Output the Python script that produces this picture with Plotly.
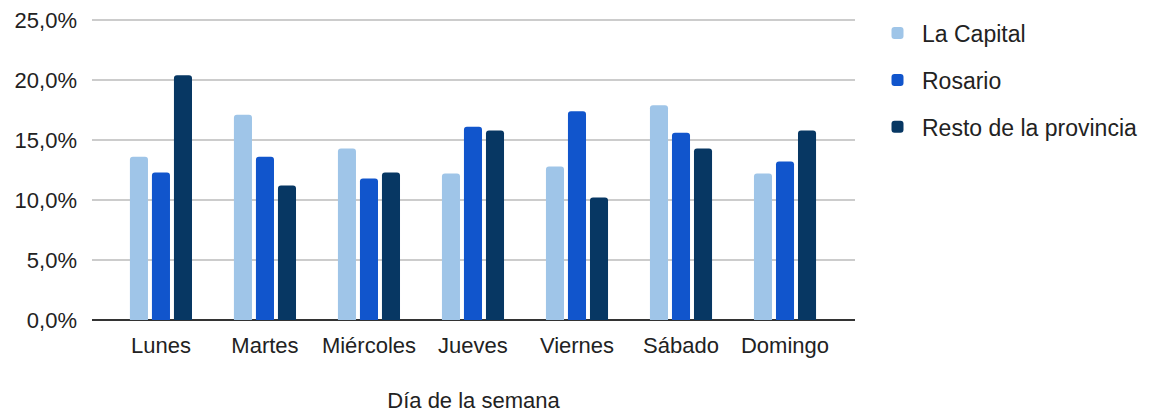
import plotly.graph_objects as go

dias = ["Lunes", "Martes", "Miércoles", "Jueves", "Viernes", "Sábado", "Domingo"]
la_capital = [13.6, 17.1, 14.3, 12.2, 12.8, 17.9, 12.2]
rosario = [12.3, 13.6, 11.8, 16.1, 17.4, 15.6, 13.2]
resto = [20.4, 11.2, 12.3, 15.8, 10.2, 14.3, 15.8]
y_ticks = [0, 5, 10, 15, 20, 25]
y_labels = [f"{v:.1f}%".replace(".", ",") for v in y_ticks]

series = [
    ("La Capital", la_capital, "#9fc5e8"),
    ("Rosario", rosario, "#1155cc"),
    ("Resto de la provincia", resto, "#073763"),
]

fig = go.Figure()
for name, vals, color in series:
    fig.add_trace(go.Bar(x=dias, y=vals, name=name, marker_color=color,
                         marker_line_width=0, legendgroup=name))

font = "Liberation Sans, Arial, sans-serif"
txt = "#222222"
fig.update_layout(
    width=1141, height=406,
    margin=dict(l=84, r=294, t=9, b=94, autoexpand=False),
    paper_bgcolor="white", plot_bgcolor="white",
    barmode="group", bargap=0.365, bargroupgap=0.18,
    barcornerradius=3,
    font=dict(family=font, size=22, color=txt),
    showlegend=True,
    legend=dict(x=1.0236, xref="paper", y=1.018, xanchor="left", yanchor="top",
                font=dict(size=23, color=txt), tracegroupgap=14,
                itemwidth=39, bgcolor="rgba(0,0,0,0)"),
    xaxis=dict(range=[-0.663, 6.673], showgrid=False, ticks="",
               tickfont=dict(size=22, color=txt), ticklabelstandoff=10,
               title=dict(text="Día de la semana", font=dict(size=22, color=txt), standoff=35),
               showline=False),
    yaxis=dict(range=[0, 25.25], tickvals=y_ticks, ticktext=y_labels,
               showgrid=True, gridcolor="#cccccc", gridwidth=1.5,
               zeroline=True, zerolinecolor="#333333", zerolinewidth=1.5,
               ticklabeloverflow="allow",
               tickfont=dict(size=22, color=txt), ticks="", ticklabelstandoff=14),
)

fig.write_html("out.html")
